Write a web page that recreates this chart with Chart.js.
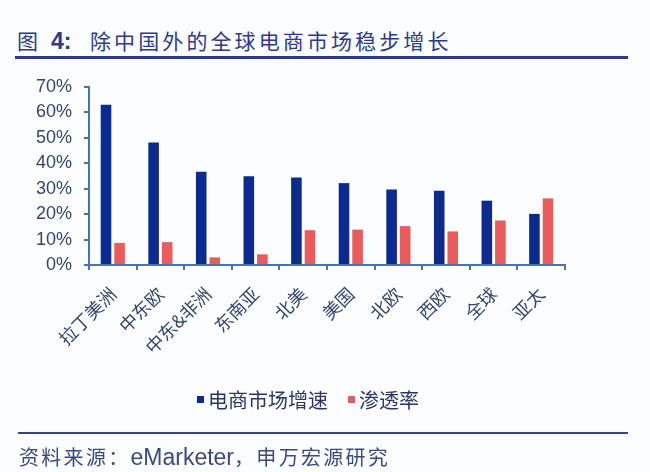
<!DOCTYPE html>
<html><head><meta charset="utf-8">
<script src="https://cdn.jsdelivr.net/npm/chart.js@4/dist/chart.umd.min.js"></script>
<style>
html,body{margin:0;padding:0;background:#fcfdfe;}
#wrap{position:relative;width:650px;height:472px;overflow:hidden;}
.t{position:absolute;white-space:nowrap;font-family:"Noto Sans CJK SC",sans-serif;}
#t1{left:17px;top:27px;font-size:21px;line-height:26px;color:#2b3a8c;}
#t1 b{font-family:"Liberation Sans",Arial,sans-serif;font-weight:bold;font-size:23px;margin-left:13px;}
#t2{left:90px;top:27px;font-size:21px;line-height:26px;color:#2b3a8c;letter-spacing:3.1px;}
.rule{position:absolute;}
#source{left:19px;top:443px;line-height:28px;font-size:20px;color:#3b4a7e;letter-spacing:2.3px;}
#source span{font-family:"Liberation Sans",Arial,sans-serif;font-size:23px;letter-spacing:0;}
#legend{position:absolute;left:197px;top:385px;height:28px;display:flex;align-items:center;font-family:"Noto Sans CJK SC",sans-serif;font-size:20px;color:#2a3766;white-space:nowrap;}
#legend .item{display:flex;align-items:center;margin-right:20px;}
#legend .box{width:7px;height:7px;margin-right:4px;}
canvas{position:absolute;left:0;top:0;}
</style></head>
<body><div id="wrap">
<div class="t" id="t1">图<b>4:</b></div>
<div class="t" id="t2">除中国外的全球电商市场稳步增长</div>
<div class="rule" style="left:15px;width:613px;top:56px;height:3px;background:#2d3a8a"></div>
<canvas id="c" width="650" height="472"></canvas>
<div id="legend"></div>
<div class="rule" style="left:18px;width:610px;top:432px;height:2px;background:#38447a"></div>
<div class="t" id="source">资料来源：<span>eMarketer</span>，申万宏源研究</div>
</div>
<script>
const categories = ['拉丁美洲','中东欧','中东&非洲','东南亚','北美','美国','北欧','西欧','全球','亚太'];
const growthRate = [63, 48.2, 36.7, 34.9, 34.4, 32.2, 29.7, 29.2, 25.3, 20.1];
const penetration = [8.7, 9.0, 3.0, 4.2, 13.7, 13.9, 15.3, 13.2, 17.5, 26.2];
const seriesNames = ['电商市场增速','渗透率'];
const yTicks = [0,10,20,30,40,50,60,70];

const seriesColors = ['#0c2b8e', '#ea5b5b'];
const axisColor = '#4f72ad';
const textColor = '#34466e';

const chart = new Chart(document.getElementById('c'), {
  type: 'bar',
  data: {
    labels: categories,
    datasets: [
      {label: seriesNames[0], data: growthRate, backgroundColor: seriesColors[0], categoryPercentage: 0.57, barPercentage: 0.78},
      {label: seriesNames[1], data: penetration, backgroundColor: seriesColors[1], categoryPercentage: 0.57, barPercentage: 0.78}
    ]
  },
  options: {
    responsive: false,
    animation: false,
    devicePixelRatio: 1,
    layout: {padding: {left: 0, right: 85, top: 87, bottom: 101}},
    plugins: {
      legend: {display: false},
      tooltip: {enabled: false}
    },
    scales: {
      x: {
        grid: {drawOnChartArea: false, drawTicks: true, tickLength: 5, color: axisColor, lineWidth: 2, offset: true},
        border: {display: true, color: axisColor, width: 2},
        ticks: {maxRotation: 45, minRotation: 45, color: textColor, padding: 13,
          font: {family: '"Noto Sans CJK SC", sans-serif', size: 18}},
        afterFit: s => { s.height = 106; }
      },
      y: {
        min: 0, max: 70,
        afterBuildTicks: s => { s.ticks = yTicks.map(v => ({value: v})); },
        grid: {drawOnChartArea: false, drawTicks: true, tickLength: 5, color: axisColor, lineWidth: 2},
        border: {display: true, color: axisColor, width: 2},
        ticks: {color: textColor, padding: 12, callback: v => v + '%',
          font: {family: '"Liberation Sans", Arial, sans-serif', size: 18}},
        afterFit: s => { s.width = 89; }
      }
    }
  }
});

// HTML legend built from the chart's datasets
const legendEl = document.getElementById('legend');
chart.data.datasets.forEach(ds => {
  const item = document.createElement('div');
  item.className = 'item';
  const box = document.createElement('span');
  box.className = 'box';
  box.style.background = ds.backgroundColor;
  const txt = document.createElement('span');
  txt.textContent = ds.label;
  item.appendChild(box); item.appendChild(txt);
  legendEl.appendChild(item);
});
</script>
</body></html>
